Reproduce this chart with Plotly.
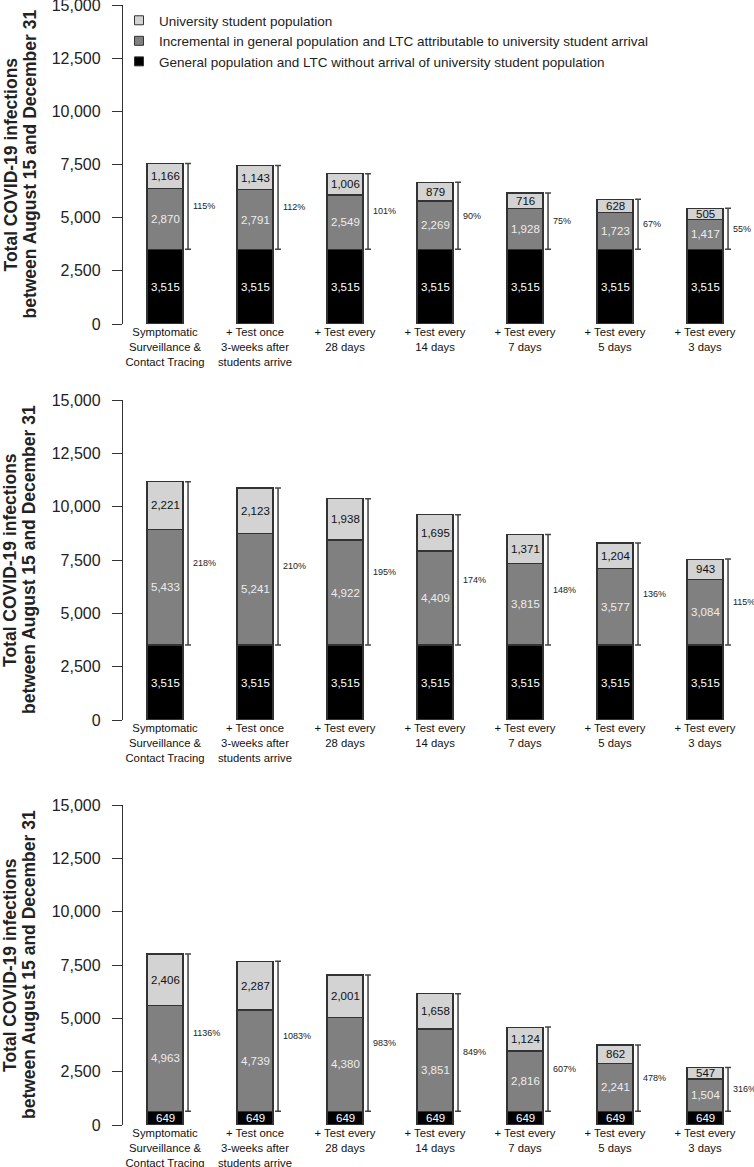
import plotly.graph_objects as go

# Data (three scenarios, top to bottom)
CATEGORIES = [
    "Symptomatic<br>Surveillance &<br>Contact Tracing",
    "+ Test once<br>3-weeks after<br>students arrive",
    "+ Test every<br>28 days",
    "+ Test every<br>14 days",
    "+ Test every<br>7 days",
    "+ Test every<br>5 days",
    "+ Test every<br>3 days",
]

GENERAL_1 = [3515, 3515, 3515, 3515, 3515, 3515, 3515]
INCREMENTAL_1 = [2870, 2791, 2549, 2269, 1928, 1723, 1417]
STUDENT_1 = [1166, 1143, 1006, 879, 716, 628, 505]
PCT_1 = [115, 112, 101, 90, 75, 67, 55]

GENERAL_2 = [3515, 3515, 3515, 3515, 3515, 3515, 3515]
INCREMENTAL_2 = [5433, 5241, 4922, 4409, 3815, 3577, 3084]
STUDENT_2 = [2221, 2123, 1938, 1695, 1371, 1204, 943]
PCT_2 = [218, 210, 195, 174, 148, 136, 115]

GENERAL_3 = [649, 649, 649, 649, 649, 649, 649]
INCREMENTAL_3 = [4963, 4739, 4380, 3851, 2816, 2241, 1504]
STUDENT_3 = [2406, 2287, 2001, 1658, 1124, 862, 547]
PCT_3 = [1136, 1083, 983, 849, 607, 478, 316]

Y_TICKS = [0, 2500, 5000, 7500, 10000, 12500, 15000]

SERIES_NAMES = [
    "University student population",
    "Incremental in general population and LTC attributable to university student arrival",
    "General population and LTC without arrival of university student population",
]

# Styling
FONT = "Liberation Sans, Arial, sans-serif"
BLACK = "#000000"
DARK = "#808080"
LIGHT = "#d3d3d3"
EDGE = "#333333"
INK = "#222222"

W, H = 754, 1167
BAR_W = 0.4
BRACKET_DX = 0.256


def px_y(p):
    return 1 - p / H


PANELS = [
    (GENERAL_1, INCREMENTAL_1, STUDENT_1, PCT_1, (5, 324)),
    (GENERAL_2, INCREMENTAL_2, STUDENT_2, PCT_2, (400, 720)),
    (GENERAL_3, INCREMENTAL_3, STUDENT_3, PCT_3, (805, 1125)),
]

fig = go.Figure()
xs = list(range(len(CATEGORIES)))
layout = {}
annotations = []

for k, (gen, inc, stu, pct, (top_px, bot_px)) in enumerate(PANELS):
    n = "" if k == 0 else str(k + 1)
    xa, ya = "x" + n, "y" + n

    for vals, color in [(gen, BLACK), (inc, DARK), (stu, LIGHT)]:
        fig.add_trace(go.Bar(
            x=xs, y=vals, width=BAR_W, xaxis=xa, yaxis=ya,
            marker=dict(color=color, line=dict(color=EDGE, width=1.2)),
            showlegend=False, hoverinfo="skip",
        ))

    # value labels centred in each segment
    for i in xs:
        base = 0
        for vals, txtcol in [(gen, "white"), (inc, "#ededed"), (stu, "#111111")]:
            annotations.append(dict(
                x=i, y=base + vals[i] / 2, xref=xa, yref=ya, text=f"{vals[i]:,}",
                showarrow=False, font=dict(family=FONT, size=11.5, color=txtcol),
            ))
            base += vals[i]

    # brackets: from top of the baseline segment to top of the bar
    fig.add_trace(go.Scatter(
        x=[i + BRACKET_DX for i in xs], y=gen, xaxis=xa, yaxis=ya,
        mode="markers", marker=dict(size=1, opacity=0),
        error_y=dict(type="data", symmetric=False,
                     array=[inc[i] + stu[i] for i in xs], arrayminus=[0] * len(xs),
                     color="#444444", thickness=1.5, width=3),
        showlegend=False, hoverinfo="skip",
    ))
    for i in xs:
        annotations.append(dict(
            x=i + BRACKET_DX, y=gen[i] + (inc[i] + stu[i]) / 2, xref=xa, yref=ya,
            text=f"{pct[i]}%", showarrow=False, xanchor="left", xshift=3,
            font=dict(family=FONT, size=9, color=INK),
        ))

    dom = [px_y(bot_px), px_y(top_px)]
    layout["xaxis" + n] = dict(
        domain=[123 / W, 1], range=[-0.4667, 6.5444], anchor=ya,
        tickvals=xs, ticktext=CATEGORIES, showline=False, showgrid=False,
        zeroline=False, ticks="", tickfont=dict(family=FONT, size=11.3, color="#111111"),
        automargin=False, ticklabeloverflow="allow",
    )
    layout["yaxis" + n] = dict(
        domain=dom, range=[0, 15000], anchor=xa,
        tickvals=Y_TICKS, tickformat=",", ticks="outside", ticklen=10,
        tickwidth=1.3, tickcolor=EDGE, showline=True, linecolor=EDGE, linewidth=1.3,
        showgrid=False, zeroline=False, ticklabeloverflow="allow", ticklabelstandoff=8,
        tickfont=dict(family=FONT, size=16, color=INK), automargin=False,
    )

    mid = px_y((top_px + bot_px) / 2)
    for xpx, line in [(10, "Total COVID-19 infections"), (29, "between August 15 and December 31")]:
        annotations.append(dict(
            x=xpx / W, y=mid, xref="paper", yref="paper", text=f"<b>{line}</b>",
            textangle=-90, showarrow=False, xanchor="center", yanchor="middle",
            font=dict(family=FONT, size=17.5, color=INK),
        ))

# legend-only entries
for name, color in zip(SERIES_NAMES, [LIGHT, DARK, BLACK]):
    fig.add_trace(go.Scatter(
        x=[None], y=[None], mode="markers", name=name,
        marker=dict(symbol="square", size=9, color=color, line=dict(color=EDGE, width=1)),
    ))

fig.update_layout(
    width=W, height=H,
    margin=dict(l=0, r=0, t=0, b=0),
    paper_bgcolor="white", plot_bgcolor="white",
    barmode="stack",
    showlegend=True,
    legend=dict(x=119 / W, y=px_y(5), xanchor="left", yanchor="top",
                font=dict(family=FONT, size=13.5, color=INK),
                bgcolor="rgba(0,0,0,0)", traceorder="normal", tracegroupgap=0),
    annotations=annotations,
    **layout,
)

fig.write_html("out.html", config={"displayModeBar": False},
               post_script="document.body.style.margin='0';")
